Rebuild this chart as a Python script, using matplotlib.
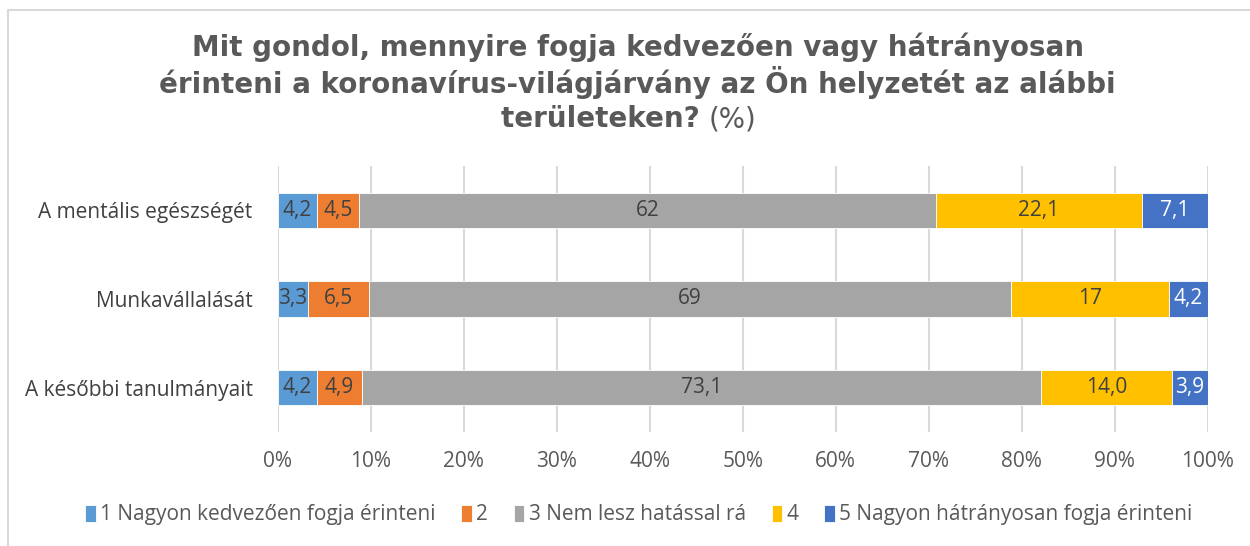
import numpy as np
import matplotlib.pyplot as plt
from matplotlib.lines import Line2D

categories = ['A későbbi tanulmányait', 'Munkavállalását', 'A mentális egészségét']
series = ['1 Nagyon kedvezően fogja érinteni', '2', '3 Nem lesz hatással rá', '4',
          '5 Nagyon hátrányosan fogja érinteni']
values = [
    [4.2, 3.3, 4.2],
    [4.9, 6.5, 4.5],
    [73.1, 69, 62],
    [14.0, 17, 22.1],
    [3.9, 4.2, 7.1],
]
labels = [
    ['4,2', '3,3', '4,2'],
    ['4,9', '6,5', '4,5'],
    ['73,1', '69', '62'],
    ['14,0', '17', '22,1'],
    ['3,9', '4,2', '7,1'],
]
colors = ['#5B9BD5', '#ED7D31', '#A5A5A5', '#FFC000', '#4472C4']
text_colors = ['#404040', '#404040', '#404040', '#404040', '#ffffff']
ticks = [0, 10, 20, 30, 40, 50, 60, 70, 80, 90, 100]

plt.rcParams['font.family'] = ['Open Sans', 'DejaVu Sans']

vals = np.array(values, dtype=float)
pct = vals / vals.sum(axis=0) * 100

fig = plt.figure(figsize=(12.5, 5.46), dpi=100)
ax = fig.add_axes([0.2222, 0.2088, 0.744, 0.4872])

y = np.arange(len(categories))
left = np.zeros(len(categories))
for i, s in enumerate(series):
    ax.barh(y, pct[i], left=left, height=0.4, color=colors[i], label=s,
            edgecolor='white', linewidth=0.6, zorder=3)
    for j in range(len(categories)):
        ax.text(left[j] + pct[i][j] / 2, y[j], labels[i][j], ha='center', va='center',
                fontsize=15, color=text_colors[i], zorder=4)
    left += pct[i]

ax.set_xlim(0, 100)
ax.set_ylim(-0.5, 2.5)
ax.set_xticks(ticks)
ax.set_xticklabels([f'{t}%' for t in ticks], fontsize=15, color='#595959')
ax.set_yticks(y)
ax.set_yticklabels(categories, fontsize=15, color='#404040')
ax.tick_params(length=0)
ax.tick_params(axis='y', pad=18)
ax.tick_params(axis='x', pad=14)
ax.xaxis.grid(True, color='#d9d9d9', linewidth=1.5, zorder=0)
for sp in ax.spines.values():
    sp.set_visible(False)

leg = fig.legend(loc='center', bbox_to_anchor=(0.511, 0.057), ncol=5, frameon=False,
                 fontsize=15, handlelength=0.5, handleheight=0.9, handletextpad=0.2,
                 columnspacing=1.25, labelcolor='#595959')

# title: bold lines, last line has a normal "(%)"
tc = '#595959'
fig.text(0.51, 0.913, 'Mit gondol, mennyire fogja kedvezően vagy hátrányosan',
         ha='center', va='center', fontsize=20, fontweight='bold', color=tc,
         family='DejaVu Sans')
fig.text(0.51, 0.848, 'érinteni a koronavírus-világjárvány az Ön helyzetét az alábbi',
         ha='center', va='center', fontsize=20, fontweight='bold', color=tc,
         family='DejaVu Sans')
t1 = fig.text(0, 0.782, 'területeken? ', ha='left', va='center', fontsize=20,
              fontweight='bold', color=tc, family='DejaVu Sans')
t2 = fig.text(0, 0.782, '(%)', ha='left', va='center', fontsize=20, color=tc,
              family='DejaVu Sans')
r = fig.canvas.get_renderer()
w1 = t1.get_window_extent(r).width / fig.bbox.width
w2 = t2.get_window_extent(r).width / fig.bbox.width
x0 = 0.503 - (w1 + w2) / 2
t1.set_x(x0)
t2.set_x(x0 + w1)

# chart border
fig.add_artist(Line2D([8 / 1250, 8 / 1250, 1], [0, 1 - 10 / 546, 1 - 10 / 546],
                      color='#d9d9d9', linewidth=1.5, transform=fig.transFigure))

fig.savefig('out.png', dpi=100)
